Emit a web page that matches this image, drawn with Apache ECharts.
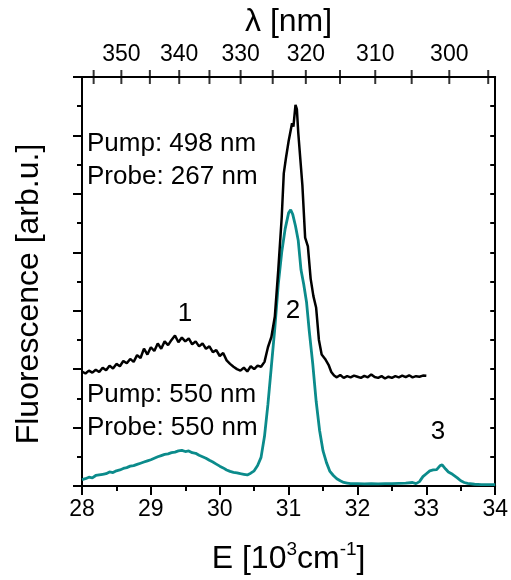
<!DOCTYPE html>
<html><head><meta charset="utf-8">
<script src="https://cdn.jsdelivr.net/npm/echarts@6/dist/echarts.min.js"></script>
<style>html,body{margin:0;padding:0;background:#fff}#c{width:511px;height:580px}</style>
</head><body><div id="c"></div>
<script>
// Black curve: Pump 498 nm / Probe 267 nm
const blackE = [28.00,28.05,28.10,28.15,28.20,28.25,28.30,28.35,28.40,28.45,28.50,28.55,28.60,28.65,28.70,28.75,28.80,28.85,28.90,28.95,
29.00,29.05,29.10,29.15,29.20,29.25,29.30,29.35,29.40,29.45,29.50,29.55,29.60,29.65,29.70,29.75,29.80,29.85,29.90,29.95,
30.00,30.05,30.10,30.15,30.20,30.25,30.30,30.35,30.40,30.45,30.50,30.55,30.60,30.65,30.70,30.75,30.80,30.85,30.90,30.93,
30.96,31.00,31.05,31.07,31.10,31.12,31.14,31.17,31.20,31.24,31.28,31.32,31.36,31.40,31.44,31.48,31.53,31.58,31.62,31.66,
31.70,31.75,31.80,31.85,31.90,31.95,32.00,32.05,32.10,32.15,32.20,32.25,32.30,32.35,32.40,32.45,32.50,32.55,32.60,32.65,
32.70,32.75,32.80,32.85,32.90,32.95,33.00];
const blackI = [3.92,3.85,3.95,3.88,3.98,3.90,4.05,3.96,4.12,4.02,4.18,4.10,4.28,4.20,4.35,4.25,4.48,4.38,4.70,4.50,
4.75,4.62,4.88,4.70,4.95,4.82,5.00,5.15,4.92,5.08,4.95,5.05,4.85,4.95,4.78,4.88,4.70,4.78,4.58,4.65,
4.45,4.55,4.30,4.18,4.08,4.00,3.95,4.05,3.92,4.10,4.00,4.12,4.08,4.25,4.75,5.10,5.80,7.40,9.20,10.70,
11.20,11.80,12.42,12.30,13.05,12.90,12.10,11.20,10.30,8.50,8.20,7.10,6.50,6.10,5.00,4.50,4.35,4.15,3.90,3.78,
3.72,3.80,3.70,3.76,3.72,3.78,3.74,3.70,3.77,3.72,3.82,3.73,3.70,3.76,3.68,3.74,3.70,3.76,3.72,3.78,
3.73,3.79,3.72,3.76,3.74,3.78,3.77];
// Teal curve: Pump 550 nm / Probe 550 nm
const tealE = [28.00,28.05,28.10,28.15,28.20,28.25,28.30,28.35,28.40,28.45,28.50,28.55,28.60,28.65,28.70,28.75,28.80,28.85,28.90,28.95,
29.00,29.05,29.10,29.15,29.20,29.25,29.30,29.35,29.40,29.45,29.50,29.55,29.60,29.65,29.70,29.75,29.80,29.85,29.90,29.95,
30.00,30.05,30.10,30.15,30.20,30.25,30.30,30.35,30.40,30.45,30.50,30.55,30.60,30.65,30.70,30.75,30.80,30.85,30.90,30.95,
31.00,31.03,31.06,31.10,31.14,31.18,31.22,31.26,31.30,31.35,31.40,31.45,31.50,31.55,31.60,31.65,31.70,31.75,31.80,31.85,
31.90,32.00,32.10,32.20,32.30,32.40,32.50,32.60,32.70,32.80,32.85,32.90,32.95,33.00,33.05,33.10,33.15,33.20,33.23,33.28,
33.32,33.38,33.45,33.50,33.55,33.60,33.70,33.80,33.90,34.00];
const tealI = [0.22,0.25,0.30,0.28,0.36,0.38,0.40,0.42,0.48,0.46,0.52,0.55,0.60,0.63,0.68,0.70,0.74,0.78,0.82,0.86,
0.90,0.95,1.00,1.04,1.08,1.10,1.14,1.16,1.20,1.22,1.18,1.20,1.14,1.12,1.05,1.00,0.95,0.88,0.82,0.75,
0.68,0.62,0.55,0.50,0.47,0.45,0.42,0.40,0.38,0.44,0.52,0.70,0.98,1.70,2.80,4.10,5.40,6.90,8.00,8.80,
9.35,9.45,9.30,8.90,8.40,7.40,6.90,6.30,5.30,4.20,2.90,1.90,1.20,0.80,0.50,0.36,0.25,0.18,0.12,0.10,
0.08,0.08,0.07,0.08,0.07,0.08,0.08,0.09,0.10,0.12,0.08,0.15,0.32,0.42,0.52,0.55,0.56,0.70,0.72,0.58,
0.48,0.40,0.28,0.18,0.12,0.09,0.06,0.05,0.05,0.05];
// Top axis (wavelength, nm)
const lambdaLabels = [350,340,330,320,310,300];
const lambdaTicks = [355,350,345,340,335,330,325,320,315,310,305,300,295];

const FONT = '"Liberation Sans", Arial, sans-serif';
const YMAX = 14;
const zip = (a, b) => a.map((v, i) => [v, b[i]]);
const toE = l => 1e4 / l;

const chart = echarts.init(document.getElementById('c'), null, {renderer: 'canvas'});
const axisLine = {show: true, onZero: false, lineStyle: {color: '#000', width: 2}};
const txt = (text, x, y, align) => ({type: 'text', x: x, y: y, z: 10,
  style: {text: text, font: '26px ' + FONT, fill: '#000', textAlign: align, align: align,
    textVerticalAlign: 'middle', verticalAlign: 'middle'}});
chart.setOption({
  animation: false,
  backgroundColor: '#fff',
  grid: {left: 82, right: 13, top: 77, bottom: 94, containLabel: false},
  xAxis: [{
    type: 'value', position: 'bottom', min: 28, max: 34, interval: 1,
    axisLine: axisLine,
    axisTick: {show: true, inside: false, length: 9, lineStyle: {color: '#000', width: 2}},
    minorTick: {show: true, splitNumber: 2, length: 5, lineStyle: {color: '#000', width: 2}},
    splitLine: {show: false},
    axisLabel: {show: true, margin: 12, color: '#000', fontSize: 23, fontFamily: FONT},
    name: '{n|E [10}{s|3}{n|cm}{s|-1}{n|]}',
    nameLocation: 'middle', nameGap: 54,
    nameTextStyle: {rich: {
      n: {fontSize: 32, fontFamily: FONT, color: '#000', lineHeight: 38},
      s: {fontSize: 19, fontFamily: FONT, color: '#000', verticalAlign: 'top', lineHeight: 38}
    }}
  }, {
    type: 'value', position: 'top', min: 28, max: 34,
    axisLine: axisLine,
    axisTick: {show: false},
    splitLine: {show: false},
    axisLabel: {show: true, margin: 11, color: '#000', fontSize: 23, fontFamily: FONT,
      customValues: lambdaLabels.map(toE), formatter: v => String(Math.round(1e4 / v))},
    name: 'λ [nm]', nameLocation: 'middle', nameGap: 27,
    nameTextStyle: {fontSize: 32, fontFamily: FONT, color: '#000'}
  }],
  yAxis: [{
    type: 'value', position: 'left', min: 0, max: YMAX, interval: 2,
    axisLine: axisLine,
    axisTick: {show: true, inside: false, length: 9, lineStyle: {color: '#000', width: 2}},
    minorTick: {show: true, splitNumber: 2, length: 5, lineStyle: {color: '#000', width: 2}},
    splitLine: {show: false},
    axisLabel: {show: false}
  }, {
    type: 'value', position: 'right', min: 0, max: YMAX, interval: 2,
    axisLine: axisLine,
    axisTick: {show: true, inside: true, length: 5, lineStyle: {color: '#000', width: 2}},
    minorTick: {show: true, splitNumber: 2, length: 5, lineStyle: {color: '#000', width: 2}},
    splitLine: {show: false},
    axisLabel: {show: false}
  }],
  series: [{
    type: 'line', name: 'Pump 498 / Probe 267', xAxisIndex: 0, yAxisIndex: 0,
    data: zip(blackE, blackI), showSymbol: false, symbol: 'none',
    lineStyle: {color: '#000', width: 2.5}, z: 3
  }, {
    type: 'line', name: 'Pump 550 / Probe 550', xAxisIndex: 0, yAxisIndex: 0,
    data: zip(tealE, tealI), showSymbol: false, symbol: 'none',
    lineStyle: {color: '#0b8b8b', width: 2.8}, z: 2
  }, {
    // wavelength ticks on the top axis (pointing inside)
    type: 'scatter', name: 'lambdaTicks', xAxisIndex: 0, yAxisIndex: 0,
    data: lambdaTicks.map(l => [toE(l), YMAX]),
    symbol: 'rect', symbolSize: [2, 14], symbolOffset: [0, 0],
    itemStyle: {color: '#000'}, clip: true, silent: true, z: 6
  }],
  graphic: [
    txt('Pump: 498 nm', 87, 144, 'left'),
    txt('Probe: 267 nm', 87, 177, 'left'),
    txt('Pump: 550 nm', 87, 395, 'left'),
    txt('Probe: 550 nm', 87, 428, 'left'),
    txt('1', 185, 314, 'center'),
    txt('2', 293, 311, 'center'),
    txt('3', 438, 432, 'center'),
    {type: 'text', x: 29, y: 294, rotation: Math.PI / 2, z: 10,
      style: {text: 'Fluorescence [arb.u.]', font: '32px ' + FONT, fill: '#000',
        textAlign: 'center', align: 'center', textVerticalAlign: 'middle', verticalAlign: 'middle'}}
  ]
});
</script></body></html>
